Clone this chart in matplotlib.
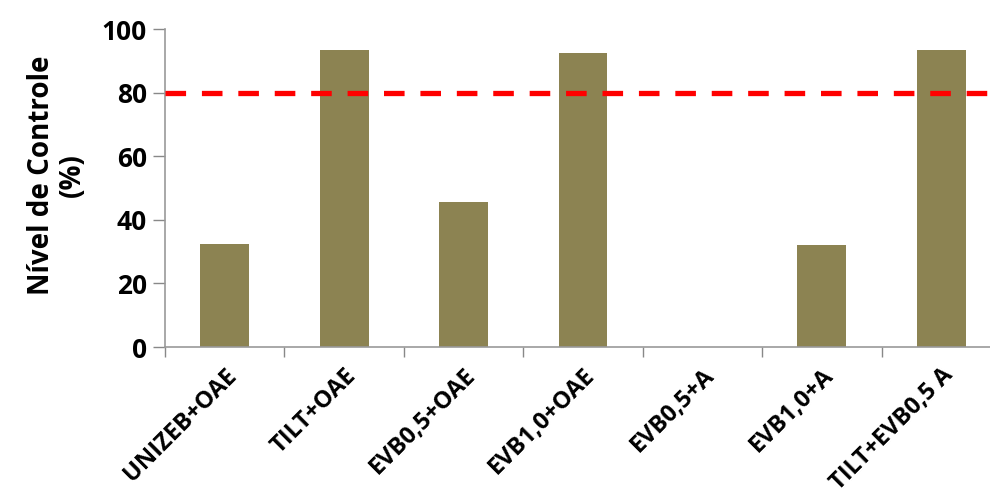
import matplotlib.pyplot as plt

# dados do gráfico
tratamentos = ["UNIZEB+OAE", "TILT+OAE", "EVB0,5+OAE", "EVB1,0+OAE",
               "EVB0,5+A", "EVB1,0+A", "TILT+EVB0,5 A"]
controle = [32.4, 93.5, 45.6, 92.3, 0, 32.0, 93.5]
nivel_limite = 80
y_ticks = [0, 20, 40, 60, 80, 100]

plt.rcParams["font.family"] = ["Open Sans", "DejaVu Sans"]

fig = plt.figure(figsize=(9.9, 4.93), dpi=100)
ax = fig.add_axes([165 / 990, 1 - 347 / 493, (1001 - 165) / 990, (347 - 29) / 493])

x = range(len(tratamentos))
ax.bar(x, controle, width=0.41, color="#8c8352", zorder=2)
ax.axhline(nivel_limite, color="#ff0000", lw=3.8, dashes=(3.9, 3.0), zorder=3)

ax.set_xlim(-0.5, len(tratamentos) - 0.5)
ax.set_ylim(0, 100)
ax.set_yticks(y_ticks)
ax.set_yticklabels([str(v) for v in y_ticks], fontsize=19, fontweight="bold")

# ticks do eixo x nos limites das categorias (estilo Excel)
ax.set_xticks([i - 0.5 for i in range(len(tratamentos) + 1)])
ax.set_xticklabels([])
ax.set_xticks(list(x), minor=True)
ax.set_xticklabels(tratamentos, minor=True, rotation=45, ha="right",
                   rotation_mode="anchor", fontsize=17, fontweight="bold")
ax.tick_params(axis="x", which="minor", length=0, pad=12)
ax.tick_params(axis="x", which="major", length=7, color="#888888", width=1)
ax.tick_params(axis="y", length=9, color="#888888", width=1, pad=4)

for s in ["top", "right"]:
    ax.spines[s].set_visible(False)
for s in ["left", "bottom"]:
    ax.spines[s].set_color("#999999")
    ax.spines[s].set_linewidth(1.2)

ax.set_ylabel("Nível de Controle\n(%)", fontsize=20, fontweight="bold",
              linespacing=1.05)
ax.yaxis.set_label_coords(-0.094, 0.54)

fig.savefig("out.png", dpi=100)
